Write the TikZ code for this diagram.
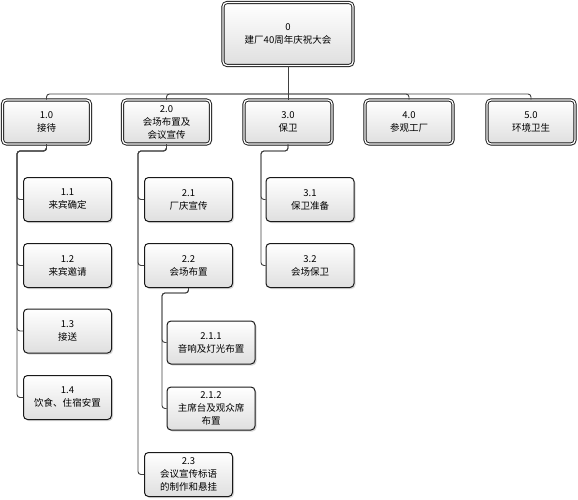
\documentclass[tikz,border=0pt]{standalone}
\usepackage{fontspec}
\setmainfont{Liberation Sans}
\newfontfamily\cjk{Noto Sans CJK SC}
\usepackage{tikz}
\usetikzlibrary{positioning,shadows}

\begin{document}
\begin{tikzpicture}[
    x=1pt, y=-1pt,
    box/.style={rounded corners=4pt, draw=black!90, line width=1pt,
        top color=white, bottom color=gray!25,
        drop shadow={shadow xshift=1.5pt, shadow yshift=-1.5pt, opacity=0.3},
        align=center, font=\cjk\fontsize{9.5}{13}\selectfont,
        minimum width=88pt, minimum height=44pt, inner sep=1pt},
    mainbox/.style={box, double=white, double distance=1.3pt, line width=0.9pt},
    link/.style={draw=black!75, line width=0.9pt, rounded corners=3pt}
]
\useasboundingbox (0,0) rectangle (578,500);

% Root
\node[mainbox, minimum width=130pt, minimum height=63pt] (root) at (288,34) {0\\建厂40周年庆祝大会};

% First level
\node[mainbox] (n1) at (46.5,122) {1.0\\接待};
\node[mainbox] (n2) at (166.5,122) {2.0\\会场布置及\\会议宣传};
\node[mainbox] (n3) at (288,122) {3.0\\保卫};
\node[mainbox] (n4) at (409,122) {4.0\\参观工厂};
\node[mainbox] (n5) at (531,122) {5.0\\环境卫生};

% Children of 1.0
\node[box] (n11) at (67.5,199.5) {1.1\\来宾确定};
\node[box] (n12) at (67.5,265.5) {1.2\\来宾邀请};
\node[box] (n13) at (67.5,331) {1.3\\接送};
\node[box] (n14) at (67.5,397.5) {1.4\\饮食、住宿安置};

% Children of 2.0
\node[box] (n21) at (188.5,199.5) {2.1\\厂庆宣传};
\node[box] (n22) at (188.5,265.5) {2.2\\会场布置};
\node[box] (n23) at (188.5,474.5) {2.3\\会议宣传标语\\的制作和悬挂};
\node[box, minimum height=43pt] (n221) at (211,342.5) {2.1.1\\音响及灯光布置};
\node[box, minimum height=43pt] (n222) at (211,408.5) {2.1.2\\主席台及观众席\\布置};

% Children of 3.0
\node[box] (n31) at (310,199.5) {3.1\\保卫准备};
\node[box] (n32) at (310,265.5) {3.2\\会场保卫};

% Connectors
\coordinate (bus) at (288,94);
\draw[link] (root.south) -- (bus);
\foreach \n in {n1,n2,n4,n5}
    \draw[link] (bus) -| (\n.north);
\draw[link] (bus) -- (n3.north);

\coordinate (s1) at (17,151);
\foreach \n in {n11,n12,n13,n14}
    \draw[link] (n1.south) |- (s1) |- (\n.west);

\coordinate (s2) at (138,151);
\foreach \n in {n21,n22,n23}
    \draw[link] (n2.south) |- (s2) |- (\n.west);

\coordinate (s22) at (162,293);
\foreach \n in {n221,n222}
    \draw[link] (n22.south) |- (s22) |- (\n.west);

\coordinate (s3) at (261,151);
\foreach \n in {n31,n32}
    \draw[link] (n3.south) |- (s3) |- (\n.west);
\end{tikzpicture}
\end{document}
